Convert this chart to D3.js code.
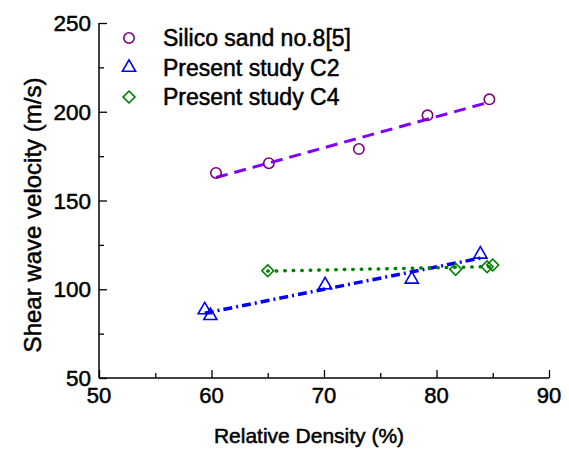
<!DOCTYPE html>
<html>
<head>
<meta charset="utf-8">
<script src="https://cdn.jsdelivr.net/npm/d3@7"></script>
<style>
  body { margin: 0; background: #fff; }
  text { font-family: "Liberation Sans", Arial, sans-serif; fill: #000; stroke: #000; stroke-width: 0.5px; }
</style>
</head>
<body>
<script>
// data
const silicoDensity = [60.4, 65.1, 73.1, 79.2, 84.7];
const silicoVs      = [165.5, 171, 179, 198, 207];
const c2Density = [59.4, 59.9, 70.1, 77.8, 83.9];
const c2Vs      = [88.3, 85.1, 102.4, 105.6, 119.7];
const c4Density = [65.0, 81.7, 84.5, 85.0];
const c4Vs      = [110.4, 111.2, 112.7, 113.7];

const xTicks = [50, 60, 70, 80, 90];
const yTicks = [50, 100, 150, 200, 250];

const series = [
  {name: "Silico sand no.8[5]", x: silicoDensity, y: silicoVs, marker: "circle", color: "#800080", lineColor: "#8000ff", dash: "12,7", cap: "butt", width: 3},
  {name: "Present study C2", x: c2Density, y: c2Vs, marker: "triangle", color: "#0000ff", lineColor: "#0000ff", dash: "9,4,2,4", cap: "butt", width: 3.5},
  {name: "Present study C4", x: c4Density, y: c4Vs, marker: "diamond", color: "#008000", lineColor: "#008000", dash: "0.5,8", cap: "round", width: 3.5}
];

const width = 569, height = 450;
const svg = d3.select("body").append("svg")
  .attr("width", width)
  .attr("height", height);

const x = d3.scaleLinear().domain([50, 90]).range([99, 549]);
const y = d3.scaleLinear().domain([50, 250]).range([378, 23]);

// least squares fit for the trend lines
function fit(xs, ys) {
  const mx = d3.mean(xs), my = d3.mean(ys);
  let sxy = 0, sxx = 0;
  xs.forEach((v, i) => { sxy += (v - mx) * (ys[i] - my); sxx += (v - mx) * (v - mx); });
  const b = sxy / sxx, a = my - b * mx;
  const x0 = d3.min(xs), x1 = d3.max(xs);
  return [[x0, a + b * x0], [x1, a + b * x1]];
}

// axes: ticks point inward
const xAxis = svg.append("g").attr("transform", `translate(0,${y(50)})`);
xAxis.call(d3.axisTop(x).tickValues(d3.range(50, 91, 5)).tickSize(0).tickFormat(""));
xAxis.select(".domain").remove();
xAxis.append("line").attr("x1", x(50)).attr("x2", x(90)).attr("stroke", "#000").attr("stroke-width", 1.5);
xAxis.selectAll(".tick line")
  .attr("y2", d => d % 10 === 0 ? -8 : -5)
  .attr("stroke", "#000").attr("stroke-width", 1.3);
xAxis.selectAll(".xl").data(xTicks).join("text")
  .attr("x", d => x(d)).attr("y", 25)
  .attr("text-anchor", "middle")
  .style("font-size", "22px")
  .text(d => d);

const yAxis = svg.append("g").attr("transform", `translate(${x(50)},0)`);
yAxis.call(d3.axisRight(y).tickValues(d3.range(50, 251, 25)).tickSize(0).tickFormat(""));
yAxis.select(".domain").remove();
yAxis.append("line").attr("y1", y(50)).attr("y2", y(250)).attr("stroke", "#000").attr("stroke-width", 1.5);
yAxis.selectAll(".tick line")
  .attr("x2", d => d % 50 === 0 ? 8 : 5)
  .attr("stroke", "#000").attr("stroke-width", 1.3);
yAxis.selectAll(".yl").data(yTicks).join("text")
  .attr("x", -8).attr("y", d => y(d)).attr("dy", "0.36em")
  .attr("text-anchor", "end")
  .style("font-size", "22.5px")
  .text(d => d);

// axis titles
svg.append("text")
  .attr("x", 309).attr("y", 443)
  .attr("text-anchor", "middle")
  .style("font-size", "21px")
  .text("Relative Density (%)");
svg.append("text")
  .attr("transform", `translate(41,215) rotate(-90)`)
  .attr("text-anchor", "middle")
  .style("font-size", "24px")
  .text("Shear wave velocity (m/s)");

const shapes = {
  circle: d3.symbol().type(d3.symbolCircle).size(85),
  triangle: d3.symbol().type(d3.symbolTriangle).size(75),
  diamond: d3.symbol().type(d3.symbolSquare).size(70)
};

// trend lines
const line = d3.line().x(d => x(d[0])).y(d => y(d[1]));
series.forEach(s => {
  svg.append("path")
    .attr("d", line(fit(s.x, s.y)))
    .attr("fill", "none")
    .attr("stroke", s.lineColor)
    .attr("stroke-width", s.width)
    .attr("stroke-dasharray", s.dash)
    .attr("stroke-linecap", s.cap);
});

// markers
series.forEach(s => {
  svg.append("g").selectAll("path")
    .data(s.x.map((v, i) => [v, s.y[i]]))
    .join("path")
    .attr("transform", d => `translate(${x(d[0])},${y(d[1])})` + (s.marker === "diamond" ? " rotate(45)" : ""))
    .attr("d", shapes[s.marker])
    .attr("fill", "none")
    .attr("stroke", s.color)
    .attr("stroke-width", 1.6);
});

// legend
const legend = svg.append("g");
series.forEach((s, i) => {
  const ly = 38 + i * 29.5;
  legend.append("path")
    .attr("transform", `translate(129,${ly})` + (s.marker === "diamond" ? " rotate(45)" : ""))
    .attr("d", shapes[s.marker])
    .attr("fill", "none")
    .attr("stroke", s.color)
    .attr("stroke-width", 1.6);
  legend.append("text")
    .attr("x", 163).attr("y", ly).attr("dy", "0.36em")
    .style("font-size", "23px")
    .text(s.name);
});
</script>
</body>
</html>
